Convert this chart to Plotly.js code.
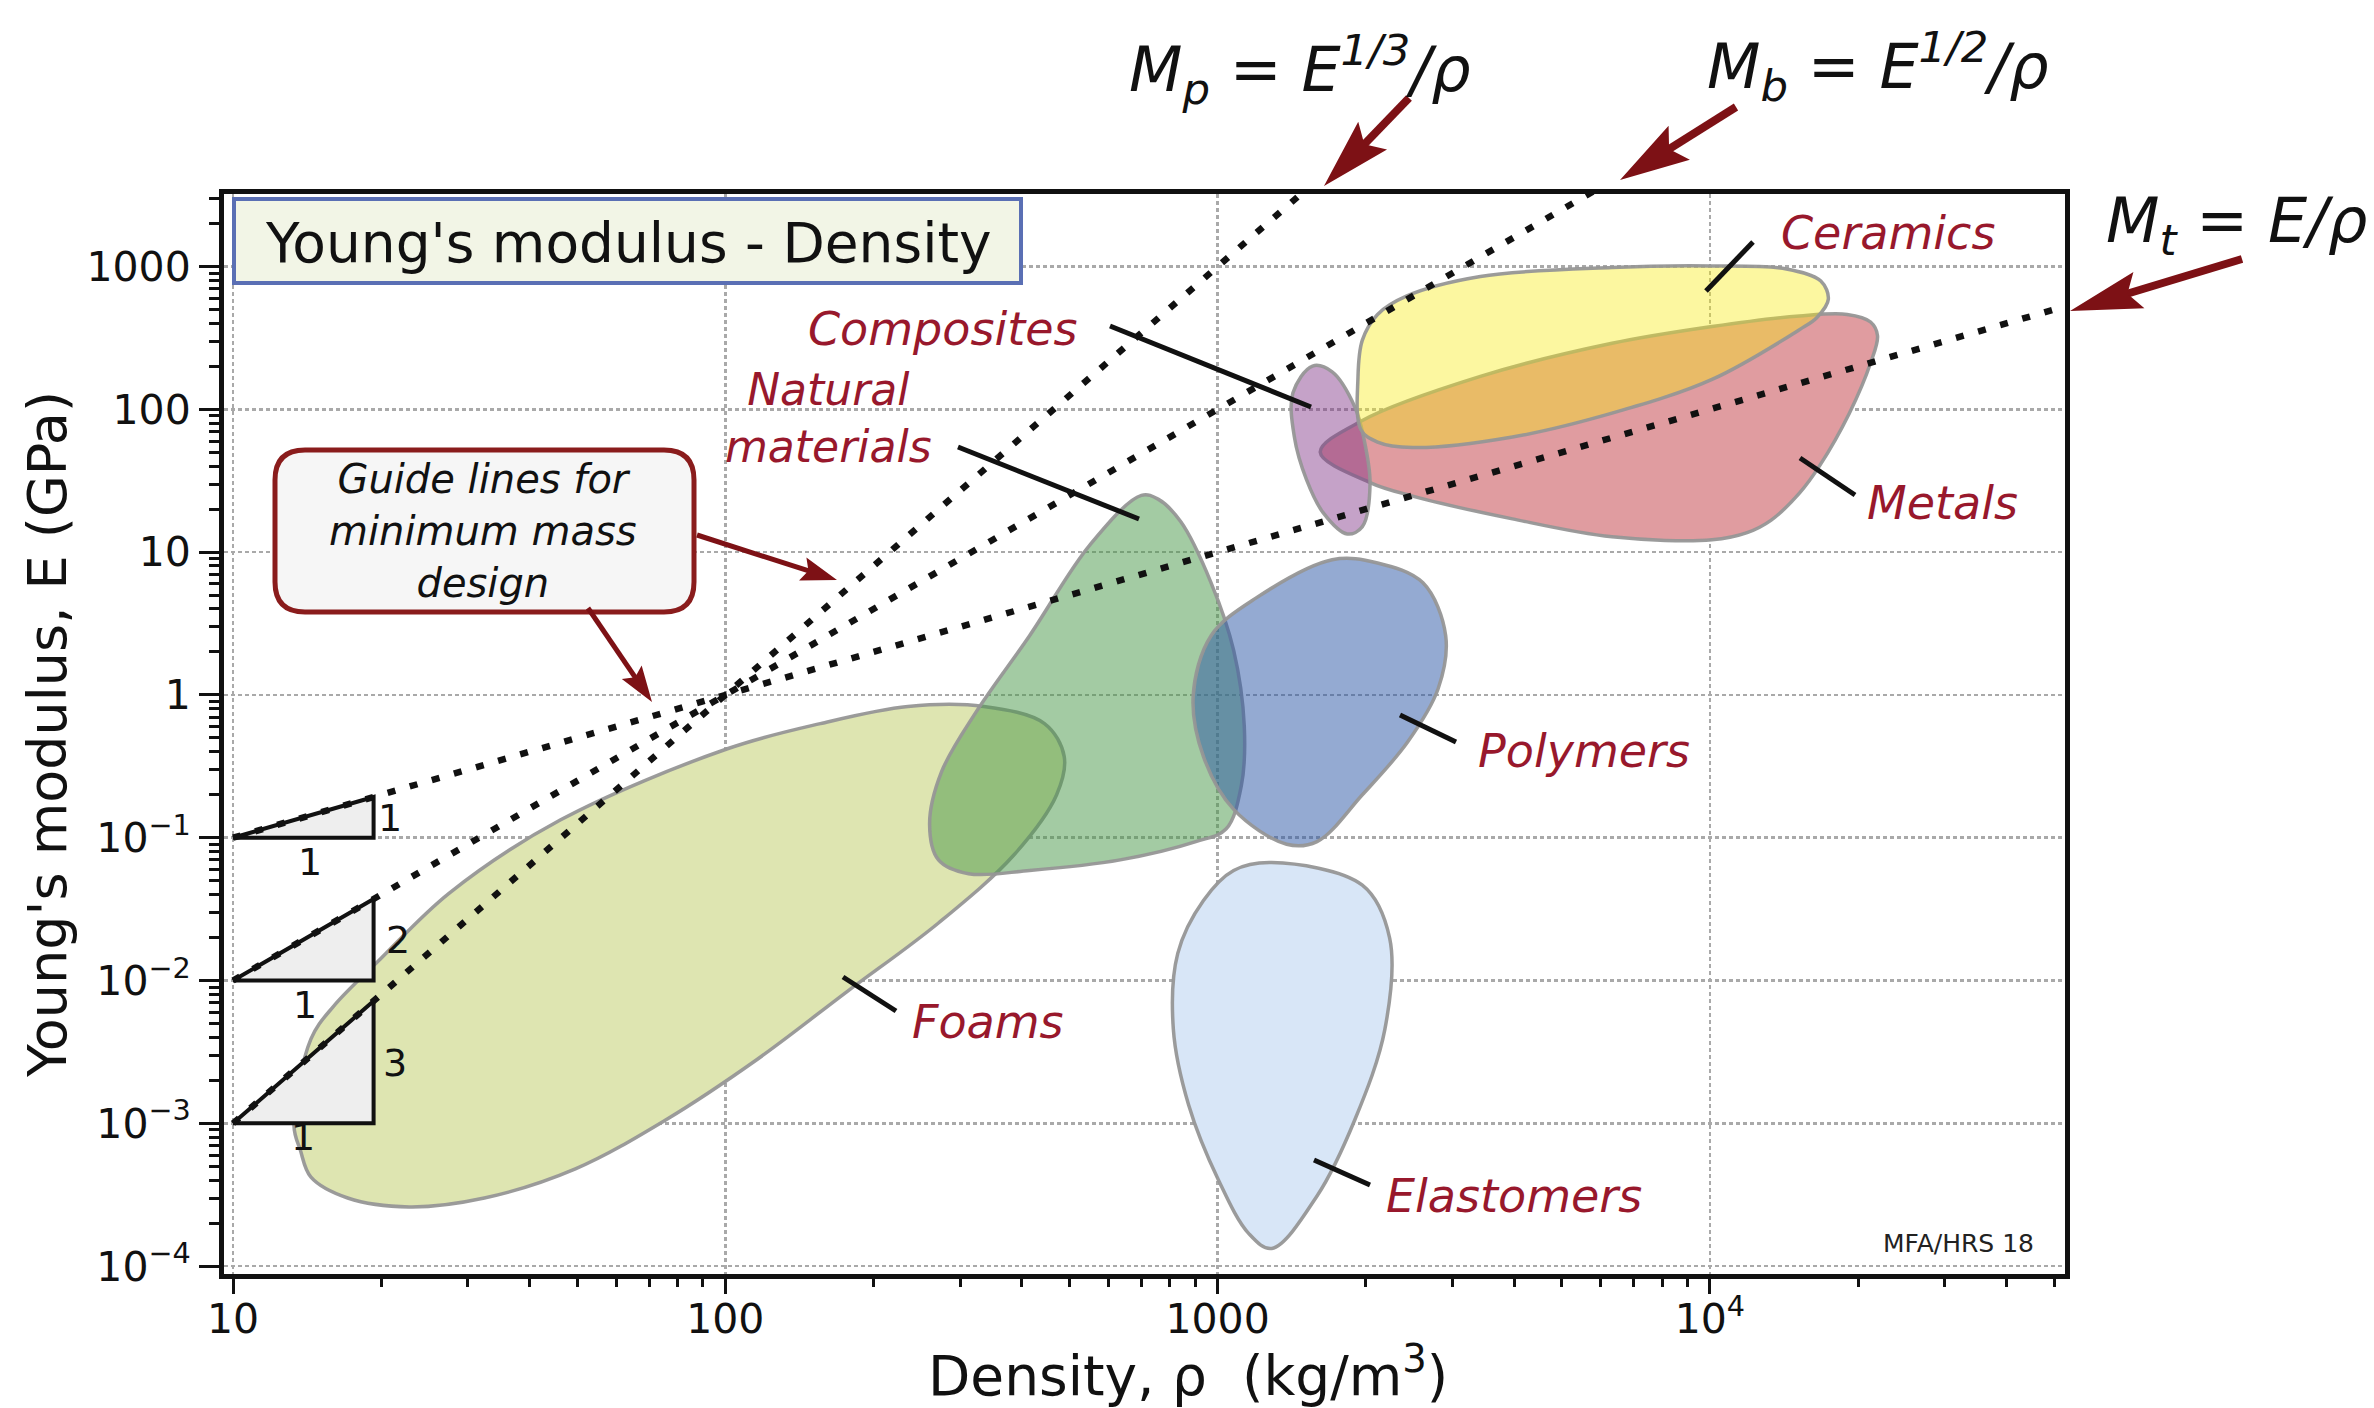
<!DOCTYPE html>
<html><head><meta charset="utf-8">
<script src="https://cdn.plot.ly/plotly-3.0.1.min.js"></script>
<style>html,body{margin:0;padding:0;background:#fff;}</style>
</head><body><div id="chart" style="width:2374px;height:1408px;"></div>
<script>
// ---------- data (density kg/m3, modulus GPa) ----------
const foamRho = [13.3, 14.4, 16.0, 19.9, 27.5, 46.2, 101, 156, 235, 335, 445, 488, 471, 386, 271, 177, 116, 75.8, 49.6, 32.4, 22.8, 17.1, 14.4, 13.7];
const foamE   = [0.00096, 0.0039, 0.0066, 0.0141, 0.041, 0.133, 0.42, 0.63, 0.83, 0.83, 0.63, 0.37, 0.20, 0.076, 0.0253, 0.0084, 0.0028, 0.00106, 0.00048, 0.00030, 0.00026, 0.00030, 0.00042, 0.00065];

const natRho = [700, 551, 415, 324, 275, 260, 271, 312, 415, 634, 903, 1040, 1117, 1133, 1078, 970, 842, 757];
const natE   = [25, 11.3, 2.6, 0.77, 0.29, 0.124, 0.070, 0.056, 0.059, 0.070, 0.094, 0.115, 0.23, 0.60, 2.05, 6.1, 16.3, 23.5];

const polyRho = [1709, 2113, 2613, 2906, 2806, 2434, 1968, 1592, 1381, 1078, 936, 892, 970, 1200];
const polyE   = [8.85, 8.4, 6.1, 2.6, 1.11, 0.47, 0.20, 0.094, 0.090, 0.158, 0.37, 0.98, 2.6, 4.8];

const elastRho = [1288, 1968, 2236, 2187, 1900, 1592, 1288, 1157, 1005, 873, 813, 830, 936, 1078];
const elastE   = [0.067, 0.0465, 0.0198, 0.00457, 0.00106, 0.00031, 0.000133, 0.000169, 0.000398, 0.00135, 0.00457, 0.0155, 0.0364, 0.059];

const compRho = [1559, 1709, 1900, 1983, 2040, 1968, 1834, 1638, 1515, 1432, 1422];
const compE   = [201, 183, 104, 62, 30, 15.1, 13.4, 18.9, 32.3, 64, 130];

const metRho = [1616, 1968, 3418, 6327, 10100, 15200, 19000, 21200, 21900, 21200, 19200, 16700, 15200, 13300, 11900, 10100, 6327, 3971, 2489, 2040];
const metE   = [50.1, 83.5, 170, 290, 380, 451, 462, 409, 328, 211, 94, 40.2, 25.9, 16.7, 13.7, 12.2, 12.8, 17.1, 24.7, 30.7];

const cerRho = [1955, 1928, 1968, 2113, 2418, 3418, 6327, 10100, 14300, 16800, 17400, 16500, 15200, 10100, 6327, 3971, 2489, 2113];
const cerE   = [72, 166, 305, 462, 620, 851, 985, 1009, 961, 791, 590, 440, 361, 162, 94, 64, 54, 59];

// guide lines (E/rho, E^1/2/rho, E^1/3/rho) - end points
const guideTRho = [10, 60000];  const guideTE = [0.1, 600];
const guideBRho = [10, 8000];   const guideBE = [0.01, 6400];
const guidePRho = [10, 2000];   const guidePE = [0.001, 8000];

// slope triangles
const triRho = [10, 19.3, 19.3, 10];
const tri1E  = [0.1, 0.1, 0.193, 0.1];
const tri2E  = [0.01, 0.01, 0.0372, 0.01];
const tri3E  = [0.001, 0.001, 0.00719, 0.001];

// ticks
const xTickVals = [10, 100, 1000, 10000];
const xTickText = ['10', '100', '1000', '10<sup>4</sup>'];
const yTickVals = [1e-4, 1e-3, 1e-2, 1e-1, 1, 10, 100, 1000];
const yTickText = ['10<sup>\u22124</sup>', '10<sup>\u22123</sup>', '10<sup>\u22122</sup>', '10<sup>\u22121</sup>', '1', '10', '100', '1000'];

// ---------- layout helpers ----------
const ML = 224, MT = 194, PW = 1841, PH = 1080;
const px = X => (X - ML) / PW;
const py = Y => (MT + PH - Y) / PH;
const FONT = 'DejaVu Sans, Liberation Sans, sans-serif';
const RED = '#98182c';
const ARROW = '#7d1115';

function minorVals(d0, d1, maxV) {
  const out = [];
  for (let d = d0; d <= d1; d++) for (let k = 2; k <= 9; k++) { const v = k * Math.pow(10, d); if (v <= maxV) out.push(v); }
  return out;
}

function region(name, xs, ys, fill) {
  return {type: 'scatter', mode: 'lines', name, x: xs.concat([xs[0]]), y: ys.concat([ys[0]]),
    fill: 'toself', fillcolor: fill,
    line: {color: 'rgba(150,150,150,0.95)', width: 3.5, shape: 'spline', smoothing: 1},
    hoverinfo: 'skip', showlegend: false};
}
function tri(xs, ys) {
  return {type: 'scatter', mode: 'lines', x: xs, y: ys, fill: 'toself', fillcolor: '#eeeeee',
    line: {color: '#111', width: 4}, hoverinfo: 'skip', showlegend: false};
}
function guide(xs, ys) {
  return {type: 'scatter', mode: 'lines', x: xs, y: ys,
    line: {color: '#111', width: 6.5, dash: '8px,15px'}, hoverinfo: 'skip', showlegend: false};
}

const traces = [
  region('Foams', foamRho, foamE, '#dee5b1'),
  region('Natural materials', natRho, natE, 'rgba(71,151,71,0.5)'),
  region('Polymers', polyRho, polyE, 'rgba(41,85,165,0.5)'),
  region('Elastomers', elastRho, elastE, '#d8e6f7'),
  region('Metals', metRho, metE, '#e09ca0'),
  region('Composites', compRho, compE, 'rgba(127,49,133,0.45)'),
  region('Ceramics', cerRho, cerE, 'rgba(248,235,18,0.4)'),
  tri(triRho, tri1E), tri(triRho, tri2E), tri(triRho, tri3E),
  guide(guideTRho, guideTE), guide(guideBRho, guideBE), guide(guidePRho, guidePE)
];

function arrowShapes(x1, y1, x2, y2, shaftW, headLen, headHalf, notch) {
  const dx = x2 - x1, dy = y2 - y1, len = Math.hypot(dx, dy), ux = dx / len, uy = dy / len;
  const nx = -uy, ny = ux;
  const bx = x2 - ux * headLen, by = y2 - uy * headLen;
  const c1 = [bx + nx * headHalf, by + ny * headHalf], c2 = [bx - nx * headHalf, by - ny * headHalf];
  const nb = [bx + ux * notch, by + uy * notch];
  return [
    {type: 'line', xref: 'paper', yref: 'paper', x0: px(x1), y0: py(y1), x1: px(nb[0] + ux * 2), y1: py(nb[1] + uy * 2), line: {color: ARROW, width: shaftW}},
    {type: 'path', xref: 'paper', yref: 'paper',
      path: `M ${px(x2)} ${py(y2)} L ${px(c1[0])} ${py(c1[1])} L ${px(nb[0])} ${py(nb[1])} L ${px(c2[0])} ${py(c2[1])} Z`,
      fillcolor: ARROW, line: {width: 0}}
  ];
}
function lead(x1, y1, x2, y2) {
  return {type: 'line', xref: 'paper', yref: 'paper', x0: px(x1), y0: py(y1), x1: px(x2), y1: py(y2), line: {color: '#111', width: 5}};
}
function roundRect(x0, y0, x1, y1, r) {
  const P = (X, Y) => `${px(X)} ${py(Y)}`;
  return `M ${P(x0 + r, y0)} L ${P(x1 - r, y0)} Q ${P(x1, y0)} ${P(x1, y0 + r)} L ${P(x1, y1 - r)} Q ${P(x1, y1)} ${P(x1 - r, y1)} L ${P(x0 + r, y1)} Q ${P(x0, y1)} ${P(x0, y1 - r)} L ${P(x0, y0 + r)} Q ${P(x0, y0)} ${P(x0 + r, y0)} Z`;
}

const shapes = [
  {type: 'rect', xref: 'paper', yref: 'paper', x0: px(234), x1: px(1021), y0: py(199), y1: py(283), fillcolor: '#f2f5e6', line: {color: '#5a6fb4', width: 4}},
  {type: 'path', xref: 'paper', yref: 'paper', path: roundRect(275, 450, 694, 612, 30), fillcolor: '#f6f6f6', line: {color: '#8a1c1c', width: 5}},
  lead(1110, 326, 1311, 407),
  lead(958, 447, 1139, 519),
  lead(843, 977, 896, 1011),
  lead(1400, 715, 1456, 742),
  lead(1314, 1160, 1370, 1185),
  lead(1753, 242, 1706, 291),
  lead(1800, 458, 1855, 495),
  ...arrowShapes(1409, 98, 1324, 186, 8, 70, 20, 12),
  ...arrowShapes(1736, 107, 1620, 180, 8, 70, 20, 12),
  ...arrowShapes(2242, 259, 2070, 311, 8, 72, 19, 12),
  ...arrowShapes(697, 535, 837, 580, 5, 36, 12, 6),
  ...arrowShapes(588, 608, 652, 702, 5, 36, 12, 6)
];

function txt(text, X, Y, size, color, extra) {
  return Object.assign({xref: 'paper', yref: 'paper', x: px(X), y: py(Y), xanchor: 'center', yanchor: 'middle',
    text, showarrow: false, font: {family: FONT, size, color}}, extra || {});
}

const annotations = [
  txt("Young's modulus - Density", 628, 243, 55, '#111'),
  txt('<i>Guide lines for<br>minimum mass<br>design</i>', 483, 531, 40, '#111'),
  txt('<i>Composites</i>', 942, 329, 46, RED),
  txt('<i>Natural<br>materials</i>', 828, 418, 44, RED),
  txt('<i>Foams</i>', 988, 1022, 46, RED),
  txt('<i>Polymers</i>', 1584, 751, 46, RED),
  txt('<i>Elastomers</i>', 1514, 1196, 46, RED),
  txt('<i>Ceramics</i>', 1888, 233, 46, RED),
  txt('<i>Metals</i>', 1942, 503, 46, RED),
  txt('<i>M<sub>p</sub> = E<sup>1/3</sup>/\u03c1</i>', 1300, 70, 62, '#111'),
  txt('<i>M<sub>b</sub> = E<sup>1/2</sup>/\u03c1</i>', 1878, 66, 62, '#111'),
  txt('<i>M<sub>t</sub> = E/\u03c1</i>', 2236, 225, 62, '#111'),
  txt('1', 390, 818, 38, '#111'),
  txt('1', 310, 862, 38, '#111'),
  txt('2', 398, 940, 38, '#111'),
  txt('1', 305, 1005, 38, '#111'),
  txt('3', 395, 1063, 38, '#111'),
  txt('1', 303, 1137, 38, '#111'),
  txt('MFA/HRS 18', 1958, 1243, 25, '#222'),
  // x-axis title (placed as annotation so it can sit off-centre like the reference)
  txt('Density, \u03c1\u00a0\u00a0(kg/m<sup>3</sup>)', 1188, 1372, 55, '#111')
];

const axisCommon = {
  type: 'log', tickmode: 'array', ticks: 'outside', tickwidth: 3, tickcolor: '#111',
  showline: true, linewidth: 5, linecolor: '#111', mirror: true,
  showgrid: true, gridcolor: '#a9a9a9', gridwidth: 2.5, griddash: '4px,3px',
  zeroline: false, automargin: false, fixedrange: true,
  tickfont: {family: FONT, size: 41, color: '#111'}
};

const layout = {
  width: 2374, height: 1408,
  margin: {l: ML, r: 2374 - ML - PW, t: MT, b: 1408 - MT - PH},
  paper_bgcolor: '#fff', plot_bgcolor: '#fff',
  showlegend: false,
  font: {family: FONT, color: '#111'},
  xaxis: Object.assign({}, axisCommon, {
    range: [0.9817, 4.7213], tickvals: xTickVals, ticktext: xTickText, ticklen: 15, ticklabelstandoff: -10,
    minor: {tickmode: 'array', tickvals: minorVals(1, 4, 60000), ticks: 'outside', ticklen: 8, tickwidth: 3, tickcolor: '#111', showgrid: false}
  }),
  yaxis: Object.assign({}, axisCommon, {
    range: [-4.055, 3.508], tickvals: yTickVals, ticktext: yTickText, ticklen: 20,
    minor: {tickmode: 'array', tickvals: minorVals(-4, 3, 3400), ticks: 'outside', ticklen: 10, tickwidth: 3, tickcolor: '#111', showgrid: false},
    title: {text: "Young's modulus, E (GPa)", font: {family: FONT, size: 54, color: '#111'}, standoff: 4}
  }),
  shapes, annotations
};

Plotly.newPlot('chart', traces, layout, {staticPlot: true, displayModeBar: false});
</script></body></html>
